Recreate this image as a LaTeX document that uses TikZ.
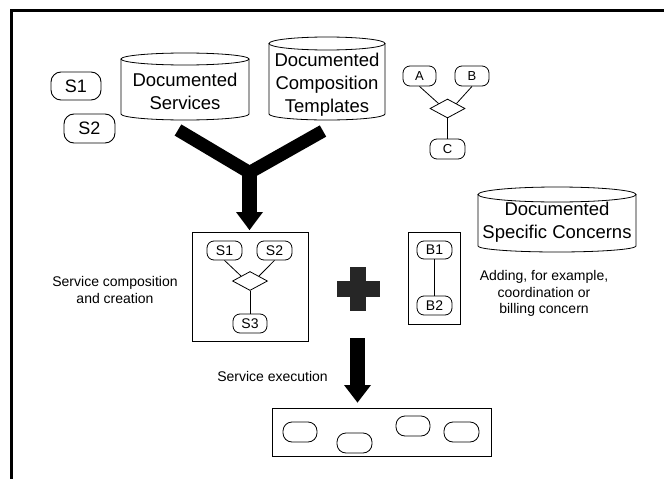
\documentclass[tikz,border=0pt]{standalone}
\usepackage{fontspec}
\setmainfont{Liberation Sans}
\usetikzlibrary{shapes.geometric,calc}
\definecolor{plusgray}{HTML}{262626}
\tikzset{
  box/.style={draw, rounded corners=7pt, line width=0.8pt, inner sep=0pt, font=\fontsize{14}{16}\selectfont},
  abcbox/.style={box, font=\fontsize{13}{15}\selectfont},
  bigbox/.style={draw, rounded corners=10pt, line width=0.9pt, inner sep=0pt, font=\fontsize{18}{22}\selectfont},
  dia/.style={draw, diamond, minimum width=35pt, minimum height=19pt, inner sep=0pt, line width=0.8pt},
  link/.style={line width=0.8pt},
  framebox/.style={draw, line width=0.8pt, inner sep=0pt},
  cyltext/.style={align=center, font=\fontsize{18.5}{23}\selectfont, inner sep=0pt},
  note/.style={align=center, font=\fontsize{14}{16.5}\selectfont, inner sep=0pt},
  cylline/.style={line width=0.8pt},
}
\newcommand\cylshape[5]{%
  \draw[cylline] (#1-#2,#3) -- (#1-#2,#4) arc[start angle=180,end angle=360,x radius=#2pt,y radius=6pt] -- (#1+#2,#3);
  \draw[cylline] (#1,#3) ellipse [x radius=#2pt, y radius=#5pt];}
\begin{document}
\begin{tikzpicture}[x=1pt,y=-1pt]
\useasboundingbox (0,0) rectangle (664,479);
\fill[white] (0,0) rectangle (664,479);
\draw[line width=3pt] (664,10) -- (11,10) -- (11,479);

% left loose services
\node[bigbox, minimum width=50pt, minimum height=28pt] (ls1) at (76,86) {S1};
\node[bigbox, minimum width=51pt, minimum height=29pt] (ls2) at (89.5,128.5) {S2};

% cylinders
\cylshape{185}{64}{59}{114}{6}
\node[cyltext] (dst) at (185,91.5) {Documented\\Services};
\cylshape{327}{58}{43.5}{114}{6.5}
\node[cyltext] (dct) at (327,85) {Documented\\Composition\\Templates};
\cylshape{557}{79}{194.5}{246}{7.5}
\node[cyltext] (dsc) at (557,222.5) {Documented\\Specific Concerns};

% template A B C
\node[abcbox, minimum width=33pt, minimum height=20pt] (ta) at (419.5,76) {A};
\node[abcbox, minimum width=34pt, minimum height=20pt] (tb) at (472,76) {B};
\node[dia] (td) at (447.5,108.5) {};
\node[abcbox, minimum width=35pt, minimum height=20pt] (tc) at (447.5,149) {C};
\draw[link] (ta.south) -- (td.north west);
\draw[link] (tb.south) -- (td.north east);
\draw[link] (td.south) -- (tc.north);

% composition box
\node[framebox, minimum width=116pt, minimum height=109pt] (comp) at (250,286.5) {};
\node[box, minimum width=35pt, minimum height=19pt] (s1) at (224.5,250.5) {S1};
\node[box, minimum width=35pt, minimum height=19pt] (s2) at (274.5,250.5) {S2};
\node[dia] (sd) at (250,281) {};
\node[box, minimum width=34pt, minimum height=19pt] (s3) at (250,323.5) {S3};
\draw[link] (s1.south) -- (sd.north west);
\draw[link] (s2.south) -- (sd.north east);
\draw[link] (sd.south) -- (s3.north);

% Y arrow
\coordinate (ya) at (178,130);
\coordinate (yb) at (323,131);
\coordinate (yj) at (249.5,172.5);
\coordinate (yh) at (249.5,212);
\draw[line width=13pt, line join=miter] (ya) -- (yj) -- (yb);
\draw[line width=15pt] (yj) -- (yh);
\fill ($(yh)+(-13.5,0)$) -- ($(yh)+(13.5,0)$) -- ($(yh |- comp.north)+(0,-1.5)$) -- cycle;

% plus
\fill[plusgray] (337,281) rectangle (380,297);
\fill[plusgray] (350,267) rectangle (366,311);

% concern box
\node[framebox, minimum width=52pt, minimum height=92pt] (cb) at (434,278) {};
\node[box, minimum width=35pt, minimum height=18pt] (b1) at (434.5,250) {B1};
\node[box, minimum width=35pt, minimum height=19pt] (b2) at (434.5,305.5) {B2};
\draw[link] (b1.south) -- (b2.north);

% notes
\node[note] (n1) at (115,290) {Service composition\\and creation};
\node[note] (n2) at (544,293.5) {Adding, for example,\\coordination or\\billing concern};
\node[note] (n3) at (272.5,376) {Service execution};

% execution box
\node[framebox, minimum width=219pt, minimum height=48pt] (exec) at (381.5,432) {};
\node[box, rounded corners=9pt, minimum width=34pt, minimum height=20pt] (e1) at (300,432) {};
\node[box, rounded corners=9pt, minimum width=35pt, minimum height=20pt] (e2) at (354.5,443) {};
\node[box, rounded corners=9pt, minimum width=34pt, minimum height=20pt] (e3) at (413,426) {};
\node[box, rounded corners=9pt, minimum width=35pt, minimum height=20pt] (e4) at (461.5,432) {};

% execution arrow
\coordinate (a2s) at (357.5,338);
\coordinate (a2h) at (357.5,385);
\draw[line width=15pt] (a2s) -- (a2h);
\fill ($(a2h)+(-13.5,0)$) -- ($(a2h)+(13.5,0)$) -- ($(a2h |- exec.north)+(0,-5)$) -- cycle;
\end{tikzpicture}
\end{document}
